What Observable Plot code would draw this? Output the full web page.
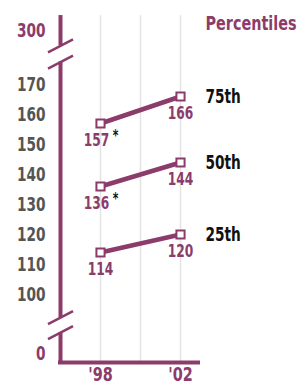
<!DOCTYPE html>
<html><head><meta charset="utf-8">
<script src="https://cdn.jsdelivr.net/npm/d3@7"></script>
<script src="https://cdn.jsdelivr.net/npm/@observablehq/plot@0.6"></script>
<style>
html,body{margin:0;padding:0;background:#fff;}
#chart svg{display:block;}
</style></head><body><div id="chart"></div>
<script>
const years = [1998, 2002];
const percentiles = ["75th", "50th", "25th"];
const scores1998 = [157, 136, 114];
const scores2002 = [166, 144, 120];
const significant1998 = [true, true, false];
const midTicks = [170, 160, 150, 140, 130, 120, 110, 100];
const endTicks = [300, 0];
const xTicks = [1998, 2002];
const gridYears = [1998, 2000, 2002];
const xDomain = [1996, 2003];
const axisSegments = [[336, 263], [224, 66], [44, 0]];
const breakValues = [263, 224, 66, 44];
const title = "Percentiles";

const purple = "#8b3c6b";
const gray = "#555555";
const font = `"DejaVu Sans", sans-serif`;
const condense = 0.72;

// broken axis: 100–170 full scale, compressed above 170 and below 100
const brk = v => v > 170 ? 170 + (v - 170) * 18 / 130 : v < 100 ? 100 + (v - 100) * 68 / 300 : v;

const points = percentiles.flatMap((p, i) => [
  {p, year: years[0], v: scores1998[i], sig: significant1998[i]},
  {p, year: years[1], v: scores2002[i], sig: false}
]);
const slash = {draw(ctx) { ctx.moveTo(-12.5, 6.5); ctx.lineTo(12.5, -6.5); }};
const T = {fontFamily: font, fontWeight: "bold"};

const chart = Plot.plot({
  width: 298, height: 384,
  marginLeft: 60, marginRight: 98, marginTop: 15, marginBottom: 22,
  x: {domain: xDomain, axis: null},
  y: {type: "linear", domain: [100, 170], range: [294, 84], axis: null},
  marks: [
    Plot.ruleX(gridYears, {x: d => d, y1: () => brk(axisSegments[0][0]), y2: () => brk(0), stroke: "#e4e4e4", strokeWidth: 1.5}),
    Plot.ruleX(axisSegments, {x: xDomain[0], y1: d => brk(d[0]), y2: d => brk(d[1]), stroke: purple, strokeWidth: 4}),
    Plot.ruleY([0], {y: d => brk(d), x1: xDomain[0] - 0.1, x2: xDomain[1], stroke: purple, strokeWidth: 4}),
    Plot.dot(breakValues, {x: xDomain[0], y: d => brk(d), symbol: slash, stroke: purple, strokeWidth: 2.5, fill: "none"}),
    Plot.line(points, {x: "year", y: d => brk(d.v), z: "p", stroke: purple, strokeWidth: 4.5}),
    Plot.dot(points, {x: "year", y: d => brk(d.v), symbol: "square", r: 4.6, fill: "white", stroke: purple, strokeWidth: 2}),
    Plot.text(points.filter(d => d.sig), {x: "year", y: d => brk(d.v), text: d => String(d.v), dy: 17, dx: -4, fill: purple, fontSize: 17, ...T}),
    Plot.text(points.filter(d => !d.sig), {x: "year", y: d => brk(d.v), text: d => String(d.v), dy: 17, fill: purple, fontSize: 17, ...T}),
    Plot.text(points.filter(d => d.sig), {x: "year", y: d => brk(d.v), text: () => "*", dx: 15, dy: 13, fill: "#111", fontSize: 15, ...T}),
    Plot.text(points.filter(d => d.year === years[1]), {x: "year", y: d => brk(d.v), text: "p", dx: 25, textAnchor: "start", fill: "#111", fontSize: 19, ...T}),
    Plot.text([title], {x: () => years[1], y: () => brk(endTicks[0]), text: d => d, dx: 25, dy: -7, textAnchor: "start", fill: purple, fontSize: 20, ...T}),
    Plot.text(midTicks, {x: () => xDomain[0], y: d => brk(d), text: d => String(d), dx: -15, textAnchor: "end", fill: gray, fontSize: 19, ...T}),
    Plot.text([endTicks[0]], {x: () => xDomain[0], y: d => brk(d), text: d => String(d), dx: -15, textAnchor: "end", fill: purple, fontSize: 19, ...T}),
    Plot.text([endTicks[1]], {x: () => xDomain[0], y: d => brk(d), text: d => String(d), dx: -15, dy: -9, textAnchor: "end", fill: purple, fontSize: 19, ...T}),
    Plot.text(xTicks, {x: d => d, y: () => brk(0), text: d => "'" + String(d).slice(2), dy: 4, lineAnchor: "top", fill: purple, fontSize: 20, ...T})
  ]
});
document.getElementById("chart").append(chart);
// emulate a condensed typeface: squeeze each label horizontally
chart.querySelectorAll("text").forEach(t => {
  const L = t.getComputedTextLength();
  if (L > 0) {
    t.setAttribute("textLength", (L * condense).toFixed(2));
    t.setAttribute("lengthAdjust", "spacingAndGlyphs");
  }
});
</script></body></html>
